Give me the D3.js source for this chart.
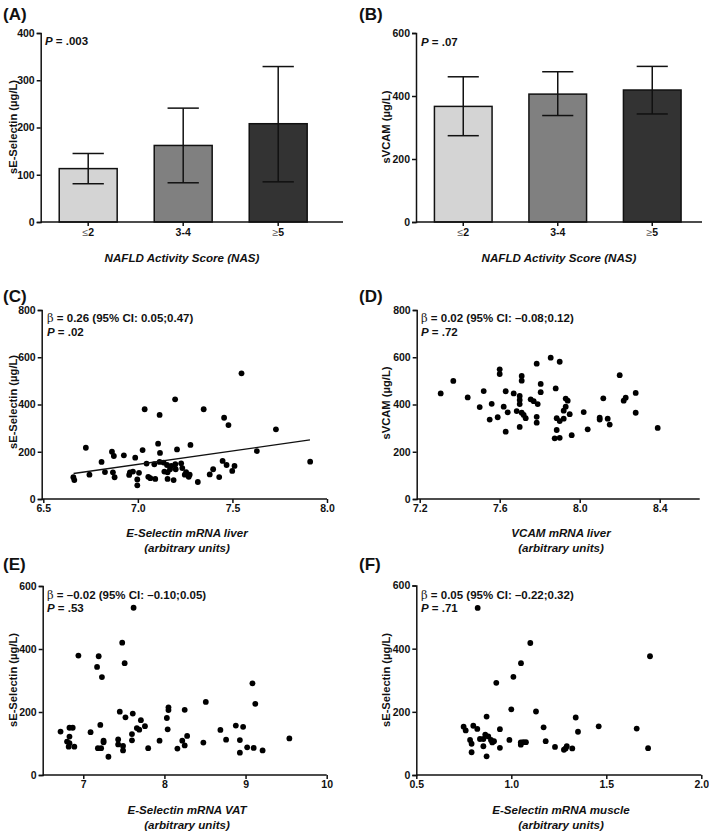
<!DOCTYPE html>
<html><head><meta charset="utf-8">
<script src="https://cdn.jsdelivr.net/npm/d3@7/dist/d3.min.js"></script>
<style>
body{margin:0;background:#fff;}
svg text{font-family:"Liberation Sans",Arial,sans-serif;fill:#111;}
</style></head>
<body><div id="chart"></div>
<script>
// ---------- DATA ----------
const barCategories = ["≤2", "3-4", "≥5"];
const seSelectinMean = [113, 162, 208];
const seSelectinLow  = [81, 83, 85];
const seSelectinHigh = [145, 241, 329];
const svcamMean = [367, 406, 419];
const svcamLow  = [274, 338, 343];
const svcamHigh = [461, 477, 494];

const ticksA = [0, 100, 200, 300, 400];
const ticksB = [0, 200, 400, 600];
const ticksCDy = [0, 200, 400, 600, 800];
const ticksEFy = [0, 200, 400, 600];
const ticksCx = [6.5, 7.0, 7.5, 8.0];
const ticksDx = [7.2, 7.6, 8.0, 8.4];
const ticksEx = [7, 8, 9, 10];
const ticksFx = [0.5, 1.0, 1.5, 2.0];

// (C) E-Selectin mRNA liver vs sE-Selectin
const cX = [7.548,7.197,7.036,7.115,7.348,7.456,7.479,7.73,6.725,7.107,7.278,7.207,7.025,7.629,6.863,6.873,7.117,6.926,6.986,6.808,7.115,7.046,7.087,7.136,7.154,7.177,7.198,7.229,7.235,7.448,7.469,7.511,7.911,7.17,7.2,6.744,6.826,6.868,6.877,6.958,6.974,7.006,6.954,6.997,6.997,7.055,7.066,7.092,7.14,7.157,7.157,7.189,7.255,7.248,7.274,7.269,7.317,7.38,7.398,7.43,7.499,6.659,6.664];
const cY = [532,422,380,356,380,344,313,295,217,234,229,210,207,203,200,182,195,185,175,157,157,150,147,154,144,140,147,151,131,161,144,140,158,126,126,103,114,113,92,113,116,111,102,83,58,94,88,85,116,113,85,80,114,103,103,94,72,104,126,93,119,92,80];
const cFitX = [6.66, 7.91];
const cFitY = [108, 250];

// (D) VCAM mRNA liver vs sVCAM
const dX = [7.305,7.368,7.44,7.52,7.5,7.56,7.55,7.59,7.6,7.6,7.62,7.63,7.64,7.63,7.67,7.685,7.7,7.7,7.7,7.71,7.71,7.71,7.72,7.73,7.7,7.755,7.77,7.79,7.785,7.805,7.805,7.785,7.785,7.855,7.9,7.88,7.93,7.94,7.93,7.92,7.95,7.885,7.9,7.92,7.885,7.875,7.9,7.96,8.02,8.04,8.1,8.1,8.118,8.14,8.15,8.2,8.22,8.23,8.28,8.28,8.39];
const dY = [447,500,430,457,389,403,336,346,549,529,391,456,367,285,447,372,436,419,402,521,501,365,356,342,305,422,414,402,573,487,452,348,323,598,581,468,425,416,391,374,359,342,330,340,292,257,259,270,368,295,344,336,426,340,315,524,416,429,449,365,301];

// (E) E-Selectin mRNA VAT vs sE-Selectin
const eX = [7.62,7.48,7.51,6.94,7.19,7.17,7.23,9.085,9.12,8.51,8.25,8.05,8.05,8.03,8.04,7.45,7.52,7.61,7.71,7.76,7.66,7.69,7.6,7.6,7.21,7.09,6.72,6.83,6.87,6.83,6.8,6.83,6.89,6.82,7.25,7.25,7.18,7.22,7.31,7.43,7.43,7.49,7.49,7.8,7.94,8.16,8.22,8.25,8.28,8.48,8.69,8.76,8.88,8.97,8.93,8.93,9.02,9.1,9.21,9.54];
const eY = [531,420,355,379,377,343,311,291,226,232,207,215,206,181,145,201,183,195,174,155,149,144,130,110,159,136,138,150,150,122,106,101,90,90,109,104,85,85,58,113,97,92,78,85,109,84,109,94,124,103,143,112,157,153,111,71,88,86,78,116];

// (F) E-Selectin mRNA muscle vs sE-Selectin
const fX = [0.823,1.1,1.051,1.011,0.921,1.73,1.0,1.13,0.87,1.339,0.749,0.76,0.8,0.821,0.94,1.17,1.351,1.46,1.66,0.863,0.879,0.835,0.853,0.783,0.893,0.909,0.9,0.791,0.99,0.853,0.94,0.791,0.87,1.05,1.063,1.077,1.05,1.181,1.23,1.277,1.292,1.286,1.321,1.72];
const fY = [529,418,354,311,292,376,208,201,185,182,153,141,156,146,145,151,137,154,147,128,122,114,114,111,111,107,103,99,111,91,86,72,59,103,104,104,96,107,89,80,91,84,84,85];

// ---------- DRAWING ----------
const W = 709, H = 831;
const svg = d3.select("#chart").append("svg").attr("width", W).attr("height", H);
const FONT = '"Liberation Sans", Arial, sans-serif';

function panelLabel(t, x, y) {
  svg.append("text").attr("x", x).attr("y", y).attr("font-size", 17).attr("font-weight", "bold").text(t);
}
function yAxis(g, scale, ticks, x) {
  const ax = g.append("g").attr("transform", `translate(${x},0)`)
    .call(d3.axisLeft(scale).tickValues(ticks).tickSize(4).tickPadding(2).tickFormat(d3.format("d")));
  styleAxis(ax);
}
function styleAxis(ax) {
  ax.selectAll("path").attr("stroke", "#111").attr("stroke-width", 1.5);
  ax.selectAll("line").attr("stroke", "#111").attr("stroke-width", 1.5);
  ax.selectAll("text").attr("font-size", 10.5).attr("font-weight", "bold").attr("font-family", FONT).attr("fill", "#111");
}
function yTitle(t, x, y) {
  svg.append("text").attr("transform", `translate(${x},${y}) rotate(-90)`).attr("text-anchor", "middle")
    .attr("dominant-baseline", "central").attr("font-size", 11.2).attr("font-weight", "bold").text(t);
}
function xTitle(lines, x, y) {
  lines.forEach((l, i) => {
    svg.append("text").attr("x", x).attr("y", y + i * 15).attr("text-anchor", "middle")
      .attr("font-size", 11.6).attr("font-weight", "bold").attr("font-style", "italic").text(l);
  });
}
function pText(x, y, val) {
  const t = svg.append("text").attr("x", x).attr("y", y).attr("font-size", 11.5).attr("font-weight", "bold");
  t.append("tspan").attr("font-style", "italic").text("P");
  t.append("tspan").text(" = " + val);
}
function betaText(x, y, str) {
  const t = svg.append("text").attr("x", x).attr("y", y).attr("font-size", 11.5).attr("font-weight", "bold");
  t.append("tspan").attr("font-weight", "normal").attr("fill", "#222").attr("font-family", '"DejaVu Serif", serif').text("β");
  t.append("tspan").text(" = " + str);
}

function barPanel(o) {
  const g = svg.append("g");
  const y = d3.scaleLinear().domain([0, o.yMax]).range([o.yBottom, o.yTop]);
  const x = d3.scaleBand().domain(barCategories).range([o.xLeft, o.bandRight]).paddingInner(0.39).paddingOuter(0.195);
  const colors = ["#d4d4d4", "#808080", "#333333"];
  g.selectAll("rect.bar").data(barCategories).join("rect")
    .attr("x", d => x(d)).attr("width", x.bandwidth())
    .attr("y", (d, i) => y(o.means[i])).attr("height", (d, i) => y(0) - y(o.means[i]))
    .attr("fill", (d, i) => colors[i]).attr("stroke", "#111").attr("stroke-width", 1.5);
  const cap = x.bandwidth() * 0.27;
  barCategories.forEach((d, i) => {
    const cx = x(d) + x.bandwidth() / 2;
    g.append("line").attr("x1", cx).attr("x2", cx).attr("y1", y(o.lows[i])).attr("y2", y(o.highs[i])).attr("stroke", "#111").attr("stroke-width", 1.5);
    [o.lows[i], o.highs[i]].forEach(v => g.append("line").attr("x1", cx - cap).attr("x2", cx + cap).attr("y1", y(v)).attr("y2", y(v)).attr("stroke", "#111").attr("stroke-width", 1.5));
  });
  yAxis(g, y, o.ticks, o.xLeft);
  g.append("line").attr("x1", o.xLeft).attr("x2", o.xRight).attr("y1", o.yBottom).attr("y2", o.yBottom).attr("stroke", "#111").attr("stroke-width", 1.5);
  const xa = g.append("g").attr("transform", `translate(0,${o.yBottom})`)
    .call(d3.axisBottom(x).tickSize(4).tickPadding(3));
  xa.select("path").remove();
  styleAxis(xa);
  xa.selectAll("text").each(function (d) {
    const t = d3.select(this); t.text("");
    if (d[0] === "≤" || d[0] === "≥") {
      t.append("tspan").attr("font-weight", "normal").attr("fill", "#555").text(d[0]);
      t.append("tspan").text(d.slice(1));
    } else t.text(d);
  });
}

function scatterPanel(o) {
  const g = svg.append("g");
  const x = d3.scaleLinear().domain(o.xDomain).range([o.xLeft, o.xRight]);
  const y = d3.scaleLinear().domain([0, o.yMax]).range([o.yBottom, o.yTop]);
  g.selectAll("circle").data(o.xs.map((v, i) => [v, o.ys[i]])).join("circle")
    .attr("cx", d => x(d[0])).attr("cy", d => y(d[1])).attr("r", 2.9).attr("fill", "#000");
  if (o.fitX) {
    g.append("line").attr("x1", x(o.fitX[0])).attr("x2", x(o.fitX[1])).attr("y1", y(o.fitY[0])).attr("y2", y(o.fitY[1]))
      .attr("stroke", "#111").attr("stroke-width", 1.3);
  }
  yAxis(g, y, o.yTicks, o.axisX);
  g.append("line").attr("x1", o.axisX).attr("x2", o.xRight).attr("y1", o.yBottom).attr("y2", o.yBottom).attr("stroke", "#111").attr("stroke-width", 1.5);
  const xa = g.append("g").attr("transform", `translate(0,${o.yBottom})`)
    .call(d3.axisBottom(x).tickValues(o.xTicks).tickSize(4).tickPadding(2).tickFormat(o.fmt));
  xa.select("path").remove();
  styleAxis(xa);
}

// (A)
panelLabel("(A)", 3, 20);
barPanel({yMax: 400, yBottom: 222, yTop: 33, xLeft: 40.7, bandRight: 325.7, xRight: 343, ticks: ticksA,
  means: seSelectinMean, lows: seSelectinLow, highs: seSelectinHigh});
yTitle("sE-Selectin (µg/L)", 13, 127);
pText(45, 45, ".003");
xTitle(["NAFLD Activity Score (NAS)"], 182, 262);

// (B)
panelLabel("(B)", 359, 20);
barPanel({yMax: 600, yBottom: 222, yTop: 33, xLeft: 416, bandRight: 699.5, xRight: 702, ticks: ticksB,
  means: svcamMean, lows: svcamLow, highs: svcamHigh});
yTitle("sVCAM (µg/L)", 386, 127);
pText(421, 46, ".07");
xTitle(["NAFLD Activity Score (NAS)"], 559, 262);

// (C)
panelLabel("(C)", 3, 302);
scatterPanel({xs: cX, ys: cY, xDomain: [6.5, 8.0], xLeft: 43.3, xRight: 327, axisX: 41.7, yMax: 800, yBottom: 499, yTop: 310,
  yTicks: ticksCDy, xTicks: ticksCx, fmt: d3.format(".1f"), fitX: cFitX, fitY: cFitY});
yTitle("sE-Selectin (µg/L)", 13, 402);
betaText(47, 322, "0.26 (95% CI: 0.05;0.47)");
pText(47, 336, ".02");
xTitle(["E-Selectin mRNA liver", "(arbitrary units)"], 187, 537);

// (D)
panelLabel("(D)", 359, 302);
scatterPanel({xs: dX, ys: dY, xDomain: [7.2, 8.6], xLeft: 419.7, xRight: 699.7, axisX: 416.7, yMax: 800, yBottom: 499, yTop: 310,
  yTicks: ticksCDy, xTicks: ticksDx, fmt: d3.format(".1f")});
yTitle("sVCAM (µg/L)", 386, 403);
betaText(421, 322, "0.02 (95% CI: –0.08;0.12)");
pText(421, 336, ".72");
xTitle(["VCAM mRNA liver", "(arbitrary units)"], 561, 537);

// (E)
panelLabel("(E)", 3, 570);
scatterPanel({xs: eX, ys: eY, xDomain: [6.5, 10], xLeft: 42.7, xRight: 326.7, axisX: 42.7, yMax: 600, yBottom: 775, yTop: 586,
  yTicks: ticksEFy, xTicks: ticksEx, fmt: d3.format("d")});
yTitle("sE-Selectin (µg/L)", 13, 680);
betaText(47, 599, "–0.02 (95% CI: –0.10;0.05)");
pText(47, 612, ".53");
xTitle(["E-Selectin mRNA VAT", "(arbitrary units)"], 187, 814);

// (F)
panelLabel("(F)", 359, 570);
scatterPanel({xs: fX, ys: fY, xDomain: [0.5, 2.0], xLeft: 416.3, xRight: 701.3, axisX: 416.3, yMax: 600, yBottom: 775, yTop: 585.5,
  yTicks: ticksEFy, xTicks: ticksFx, fmt: d3.format(".1f")});
yTitle("sE-Selectin (µg/L)", 386, 680);
betaText(421, 599, "0.05 (95% CI: –0.22;0.32)");
pText(421, 612, ".71");
xTitle(["E-Selectin mRNA muscle", "(arbitrary units)"], 561, 814);
</script></body></html>
